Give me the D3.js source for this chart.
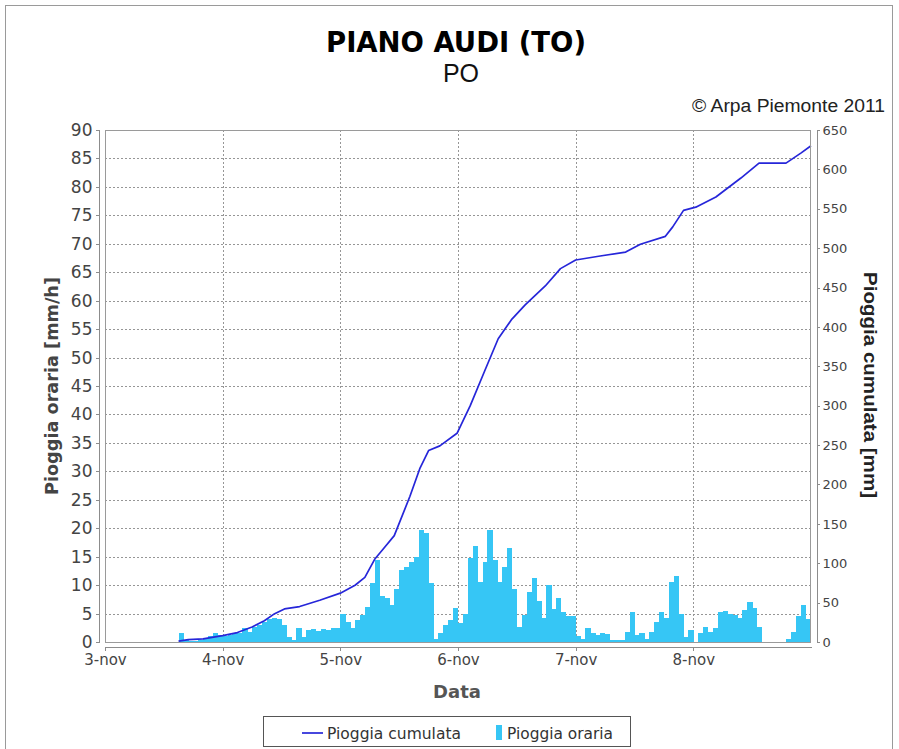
<!DOCTYPE html>
<html>
<head>
<meta charset="utf-8">
<script src="https://cdn.jsdelivr.net/npm/d3@7"></script>
<style>
  body { margin: 0; background: #fff; }
  svg { display: block; }
</style>
</head>
<body>
<svg id="chart" width="899" height="749"></svg>
<script>
// ---- data -------------------------------------------------------------
const startDay = Date.UTC(2011, 10, 3);           // 3 Nov 2011, 00:00
const endDay   = Date.UTC(2011, 10, 9);           // 9 Nov 2011, 00:00
const dayTicks = ["3-nov", "4-nov", "5-nov", "6-nov", "7-nov", "8-nov"];
const leftTicks  = [0, 5, 10, 15, 20, 25, 30, 35, 40, 45, 50, 55, 60, 65, 70, 75, 80, 85, 90];
const rightTicks = [0, 50, 100, 150, 200, 250, 300, 350, 400, 450, 500, 550, 600, 650];

// hourly rain [mm/h], one value per hour starting 3-nov 00:00
const hourlyRain = [
  0, 0, 0, 0, 0, 0, 0, 0, 0, 0, 0, 0, 0, 0, 0,          // 3-nov 00-14
  1.5, 0.3, 0.2, 0.2, 0.3, 0.5, 1.0, 1.5, 1.2,          // 3-nov 15-23
  1.0, 1.2, 1.5, 1.5, 2.5, 1.8, 2.7, 3.0, 3.5, 4.0, 4.3, 4.0,   // 4-nov 00-11
  3.0, 0.9, 0.35, 2.4, 0.9, 2.1, 2.2, 2.0, 2.3, 2.1, 2.4, 2.5,  // 4-nov 12-23
  5.0, 3.6, 2.4, 3.9, 4.7, 6.2, 10.3, 14.4, 8.0, 7.7, 6.5, 9.4, // 5-nov 00-11
  12.7, 13.2, 14.1, 15.0, 19.7, 19.1, 10.3, 0.6, 1.5, 3.0, 3.9, 5.9, // 5-nov 12-23
  3.3, 5.0, 14.7, 16.8, 10.6, 14.0, 19.7, 14.4, 10.6, 13.2, 16.5, 9.4, // 6-nov 00-11
  2.7, 4.7, 8.8, 11.2, 7.2, 4.2, 10.0, 5.8, 7.7, 5.2, 4.5, 4.6,  // 6-nov 12-23
  1.0, 0.6, 2.4, 1.5, 1.2, 1.5, 1.4, 0.35, 0.35, 0.35, 1.8, 5.2, // 7-nov 00-11
  1.2, 1.5, 0.6, 1.8, 3.6, 5.2, 4.2, 10.6, 11.6, 5.0, 0.9, 2.1,  // 7-nov 12-23
  0, 1.5, 2.7, 1.8, 2.4, 5.3, 5.4, 5.0, 4.7, 4.2, 5.6, 7.1,      // 8-nov 00-11
  5.9, 2.7, 0, 0, 0, 0, 0, 0.6, 1.8, 4.5, 6.5, 4.0              // 8-nov 12-23
];

// cumulated rain [mm] along the curve: hour since 3-nov 00:00, value
const cumulHour  = [15, 17, 20, 24, 27, 30, 32.5, 34.6, 36.6, 39.7, 43.8, 48, 51, 53, 55, 57, 59,
                    62.2, 64.2, 66, 68.3, 71.8, 74.5, 77.5, 80.2, 83, 85.7, 89.8, 92.9, 96,
                    101, 106.2, 109.2, 114.3, 115.8, 118, 120.5, 124.6, 129.7, 133.4, 138.9, 142, 144];
const cumulValue = [1, 3, 4, 8, 12, 19, 27, 36, 42, 45, 53, 62, 72, 82, 105, 120, 135,
                    185, 220, 243, 249, 265, 300, 345, 385, 410, 428, 452, 474, 485,
                    490, 495, 505, 515, 527, 548, 552, 565, 589, 608, 608, 621, 630];

// ---- layout -----------------------------------------------------------
const svg = d3.select("#chart");
const plot = { left: 105, right: 811, top: 130, bottom: 642 };
const HOUR = 3600 * 1000;
const toDate = h => new Date(startDay + h * HOUR);

const x = d3.scaleUtc().domain([new Date(startDay), new Date(endDay)]).range([plot.left, plot.right]);
const yL = d3.scaleLinear().domain([0, 90]).range([plot.bottom, plot.top]);
const yR = d3.scaleLinear().domain([0, 650]).range([plot.bottom, plot.top]);

const textColor = "#444";
const axisColor = "#8c8c8c";

// outer frame of the image
svg.append("rect")
  .attr("x", 5.5).attr("y", 5.5).attr("width", 887).attr("height", 760)
  .attr("fill", "none").attr("stroke", "#9a9a9a").attr("stroke-width", 1);

// ---- titles -----------------------------------------------------------
svg.append("text")
  .attr("x", 456).attr("y", 52).attr("text-anchor", "middle")
  .attr("font-family", "'DejaVu Sans Condensed', 'DejaVu Sans', sans-serif")
  .attr("font-weight", "bold").attr("font-size", 29).attr("fill", "#000")
  .attr("textLength", 260).attr("lengthAdjust", "spacingAndGlyphs")
  .text("PIANO AUDI (TO)");

svg.append("text")
  .attr("x", 461).attr("y", 82).attr("text-anchor", "middle")
  .attr("font-family", "'Liberation Sans', Arial, sans-serif")
  .attr("font-size", 25).attr("fill", "#111")
  .text("PO");

svg.append("text")
  .attr("x", 885).attr("y", 112).attr("text-anchor", "end")
  .attr("font-family", "'Liberation Sans', Arial, sans-serif")
  .attr("font-size", 18).attr("fill", "#222")
  .attr("textLength", 193).attr("lengthAdjust", "spacingAndGlyphs")
  .text("© Arpa Piemonte 2011");

// ---- grid -------------------------------------------------------------
const grid = svg.append("g").attr("stroke", "#969696").attr("stroke-width", 1)
  .attr("stroke-dasharray", "2,2").attr("shape-rendering", "crispEdges");

grid.selectAll("line.h").data(leftTicks.slice(1, -1)).join("line")
  .attr("x1", plot.left).attr("x2", plot.right)
  .attr("y1", d => Math.round(yL(d)) + 0.5).attr("y2", d => Math.round(yL(d)) + 0.5);

grid.selectAll("line.v").data(dayTicks.slice(1)).join("line")
  .attr("x1", (d, i) => Math.round(x(new Date(startDay + (i + 1) * 24 * HOUR))) + 0.5)
  .attr("x2", (d, i) => Math.round(x(new Date(startDay + (i + 1) * 24 * HOUR))) + 0.5)
  .attr("y1", plot.top).attr("y2", plot.bottom);

// ---- hourly bars ------------------------------------------------------
svg.append("g").attr("fill", "#36c6f5").attr("shape-rendering", "crispEdges")
  .selectAll("rect").data(hourlyRain).join("rect")
  .attr("x", (d, i) => x(toDate(i)))
  .attr("width", (d, i) => x(toDate(i + 1)) - x(toDate(i)) + 0.4)
  .attr("y", d => yL(d))
  .attr("height", d => plot.bottom - yL(d));

// ---- cumulated line ---------------------------------------------------
const line = d3.line()
  .x((d, i) => x(toDate(cumulHour[i])))
  .y(d => yR(d));

svg.append("path")
  .datum(cumulValue)
  .attr("d", line)
  .attr("fill", "none").attr("stroke", "#2626d9").attr("stroke-width", 1.7)
  .attr("stroke-linejoin", "round");

// plot outline
svg.append("rect")
  .attr("x", plot.left + 0.5).attr("y", plot.top + 0.5)
  .attr("width", plot.right - plot.left - 1).attr("height", plot.bottom - plot.top)
  .attr("fill", "none").attr("stroke", "#9a9a9a").attr("stroke-width", 1)
  .attr("shape-rendering", "crispEdges");

// ---- axes -------------------------------------------------------------
function styleAxis(g, fontFamily, fontSize) {
  g.select(".domain").attr("stroke", axisColor);
  g.selectAll(".tick line").attr("stroke", axisColor);
  g.selectAll(".tick text").attr("fill", textColor)
    .attr("font-family", fontFamily).attr("font-size", fontSize);
  g.attr("shape-rendering", "crispEdges");
}

const leftAxis = svg.append("g")
  .attr("transform", "translate(98.5,0)")
  .call(d3.axisLeft(yL).tickValues(leftTicks).tickSize(3).tickSizeOuter(3).tickPadding(3).tickFormat(d3.format("d")));
styleAxis(leftAxis, "'DejaVu Sans', sans-serif", 17);

const rightAxis = svg.append("g")
  .attr("transform", "translate(816.5,0)")
  .call(d3.axisRight(yR).tickValues(rightTicks).tickSize(3).tickSizeOuter(3).tickPadding(3).tickFormat(d3.format("d")));
styleAxis(rightAxis, "'DejaVu Sans', sans-serif", 13);

const dayDates = dayTicks.map((d, i) => new Date(startDay + i * 24 * HOUR));
const bottomAxis = svg.append("g")
  .attr("transform", "translate(0,646.5)")
  .call(d3.axisBottom(x).tickValues(dayDates).tickSize(4).tickSizeOuter(0).tickPadding(4)
    .tickFormat((d, i) => dayTicks[i]));
styleAxis(bottomAxis, "'DejaVu Sans', sans-serif", 15);

// ---- axis titles ------------------------------------------------------
svg.append("text")
  .attr("transform", "translate(58,386) rotate(-90)")
  .attr("text-anchor", "middle")
  .attr("font-family", "'DejaVu Sans', sans-serif").attr("font-weight", "bold")
  .attr("font-size", 17).attr("fill", textColor)
  .attr("textLength", 218).attr("lengthAdjust", "spacingAndGlyphs")
  .text("Pioggia oraria [mm/h]");

svg.append("text")
  .attr("transform", "translate(864,385) rotate(90)")
  .attr("text-anchor", "middle")
  .attr("font-family", "'Liberation Sans', Arial, sans-serif").attr("font-weight", "bold")
  .attr("font-size", 19).attr("fill", "#222")
  .attr("textLength", 226).attr("lengthAdjust", "spacingAndGlyphs")
  .text("Pioggia cumulata [mm]");

svg.append("text")
  .attr("x", 457).attr("y", 698).attr("text-anchor", "middle")
  .attr("font-family", "'DejaVu Sans', sans-serif").attr("font-weight", "bold")
  .attr("font-size", 18).attr("fill", "#555")
  .text("Data");

// ---- legend -----------------------------------------------------------
const legend = svg.append("g");
legend.append("rect")
  .attr("x", 263.5).attr("y", 716.5).attr("width", 367).attr("height", 30)
  .attr("fill", "#fff").attr("stroke", "#555").attr("stroke-width", 1);
legend.append("line")
  .attr("x1", 302).attr("x2", 323).attr("y1", 733).attr("y2", 733)
  .attr("stroke", "#2626d9").attr("stroke-width", 1.7);
legend.append("text")
  .attr("x", 327).attr("y", 739)
  .attr("font-family", "'DejaVu Sans', sans-serif").attr("font-size", 15).attr("fill", "#333")
  .attr("textLength", 134).attr("lengthAdjust", "spacingAndGlyphs")
  .text("Pioggia cumulata");
legend.append("rect")
  .attr("x", 496).attr("y", 725).attr("width", 6).attr("height", 15)
  .attr("fill", "#36c6f5");
legend.append("text")
  .attr("x", 507).attr("y", 739)
  .attr("font-family", "'DejaVu Sans', sans-serif").attr("font-size", 15).attr("fill", "#333")
  .attr("textLength", 106).attr("lengthAdjust", "spacingAndGlyphs")
  .text("Pioggia oraria");
</script>
</body>
</html>
